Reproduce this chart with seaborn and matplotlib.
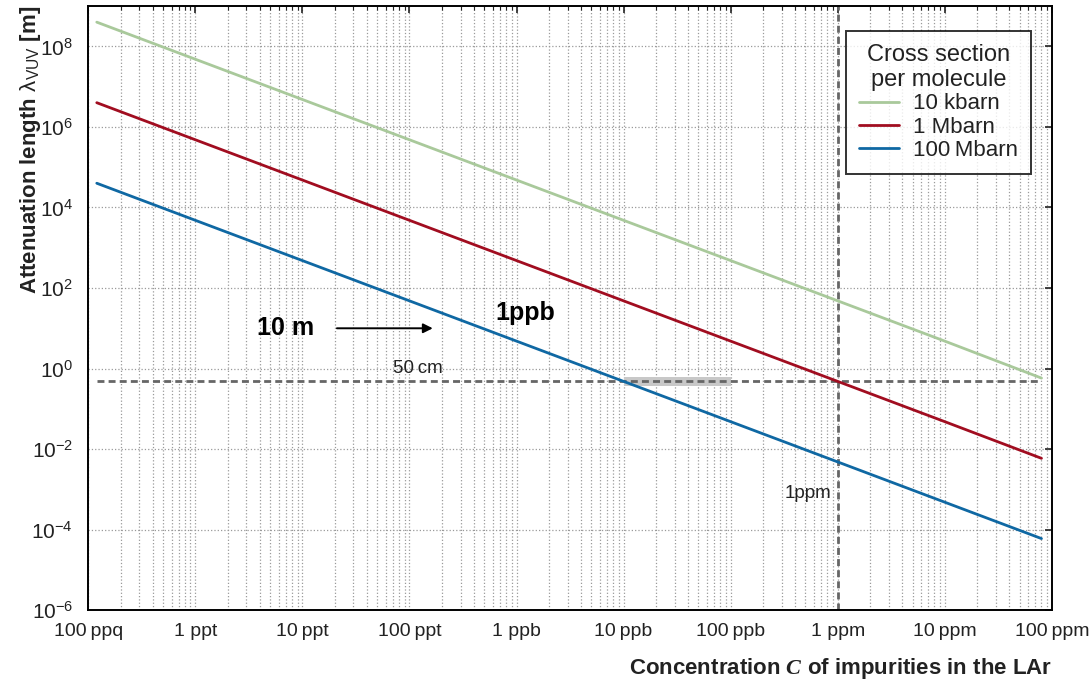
import numpy as np
import pandas as pd
import matplotlib
matplotlib.use("Agg")
import matplotlib.pyplot as plt
import seaborn as sns
from matplotlib.ticker import LogLocator, FixedLocator, NullFormatter

# concentration points (fraction) and attenuation lengths
conc = [1.2e-13, 1e-12, 1e-11, 1e-10, 1e-9, 1e-8, 1e-7, 1e-6, 1e-5, 8e-5]
lam_10kbarn = [4e8, 4.8e7, 4.8e6, 4.8e5, 4.8e4, 4.8e3, 4.8e2, 48, 4.8, 0.58]
lam_1Mbarn = [4e6, 4.8e5, 4.8e4, 4.8e3, 4.8e2, 48, 4.8, 0.48, 0.048, 0.0059]
lam_100Mbarn = [4e4, 4.8e3, 4.8e2, 48, 4.8, 0.48, 0.048, 0.0048, 0.00048, 0.00006]

series_names = ['10 kbarn', '1 Mbarn', '100\u2009Mbarn']
colours = ['#a9c99b', '#a10d20', '#0f68a3']

x_ticks = [1e-13, 1e-12, 1e-11, 1e-10, 1e-9, 1e-8, 1e-7, 1e-6, 1e-5, 1e-4]
x_tick_labels = ['100\u2009ppq', '1 ppt', '10\u2009ppt', '100\u2009ppt', '1 ppb', '10\u2009ppb',
                 '100\u2009ppb', '1 ppm', '10\u2009ppm', '100\u2009ppm']
y_ticks = [1e-6, 1e-4, 1e-2, 1e0, 1e2, 1e4, 1e6, 1e8]
y_tick_labels = ['10$^{-6}$', '10$^{-4}$', '10$^{-2}$', '10$^{0}$', '10$^{2}$',
                 '10$^{4}$', '10$^{6}$', '10$^{8}$']

limit_length = 0.5          # 50 cm
limit_conc = 1e-6           # 1 ppm
band_conc = [1e-8, 1e-7]    # 10 ppb .. 100 ppb
band_len = [0.36, 0.6]


def build_frame():
    rows = []
    for name, vals in zip(series_names, [lam_10kbarn, lam_1Mbarn, lam_100Mbarn]):
        for c, v in zip(conc, vals):
            rows.append({'C': c, 'lambda': v, 'Cross section': name})
    return pd.DataFrame(rows)


def plot_attenuation(df):
    sns.set_style('white')
    plt.rcParams['font.family'] = ['Liberation Sans', 'DejaVu Sans']
    plt.rcParams['mathtext.fontset'] = 'custom'
    plt.rcParams['mathtext.rm'] = 'Liberation Sans'
    plt.rcParams['mathtext.it'] = 'Liberation Serif:italic:bold'
    plt.rcParams['mathtext.default'] = 'rm'

    fig, ax = plt.subplots(figsize=(10.9, 6.81), dpi=100)
    fig.subplots_adjust(left=0.081, right=0.965, top=0.991, bottom=0.104)

    ax.fill_between(band_conc, band_len[0], band_len[1], color='#c8c8c8', lw=0, zorder=1)
    ax.plot([conc[0], conc[-1]], [limit_length, limit_length], ls='--', color='#666666',
            lw=2, dashes=(2.5, 1.5), zorder=2)
    ax.axvline(limit_conc, ls='--', color='#666666', lw=2, dashes=(2.5, 1.5), zorder=2)

    sns.lineplot(data=df, x='C', y='lambda', hue='Cross section', palette=colours,
                 hue_order=series_names, lw=2, ax=ax, zorder=3)

    ax.set_xscale('log')
    ax.set_yscale('log')
    ax.set_xlim(1e-13, 1e-4)
    ax.set_ylim(1e-6, 1e9)

    ax.xaxis.set_major_locator(FixedLocator(x_ticks))
    ax.set_xticklabels(x_tick_labels)
    ax.xaxis.set_minor_locator(LogLocator(base=10, subs=np.arange(2, 10), numticks=20))
    ax.xaxis.set_minor_formatter(NullFormatter())
    ax.yaxis.set_major_locator(FixedLocator(y_ticks))
    ax.set_yticklabels(y_tick_labels)
    ax.yaxis.set_minor_locator(FixedLocator([]))

    ax.grid(which='major', ls=':', color='#9a9a9a', lw=0.9)
    ax.grid(which='minor', axis='x', ls=':', color='#9a9a9a', lw=0.9)
    ax.tick_params(which='both', direction='in', top=True, right=True, labelsize=14,
                   colors='#222222', pad=9)
    ax.tick_params(axis='y', labelsize=15, pad=11)
    ax.tick_params(which='major', length=5, width=1.2)
    ax.tick_params(which='minor', length=3, width=0.8)
    for s in ax.spines.values():
        s.set_color('black')
        s.set_linewidth(1.4)

    ax.set_ylabel(r'Attenuation length $\lambda_{\rm VUV}$ [m]', fontsize=16,
                  fontweight='bold', loc='top', color='#222222', va='center')
    ax.yaxis.set_label_coords(-0.060, 1.0)
    ax.set_xlabel(r'Concentration $\mathit{C}$ of impurities in the LAr', fontsize=16,
                  fontweight='bold', loc='right', labelpad=12, color='#222222')

    ax.annotate('', xy=(1.65e-10, 10), xytext=(2.1e-11, 10),
                arrowprops=dict(arrowstyle='-|>', color='black', lw=1.4,
                                mutation_scale=14, shrinkA=0, shrinkB=0))
    ax.text(6.9e-12, 10, '10 m', fontsize=18, fontweight='bold', ha='center', va='center',
            color='black')
    ax.text(6.3e-10, 24, '1ppb', fontsize=18, fontweight='bold', ha='left', va='center',
            color='black')
    ax.text(1.2e-10, 0.6, '50\u2009cm', fontsize=13.5, ha='center', va='bottom', color='#222222')
    ax.text(0.88e-6, 8e-4, '1ppm', fontsize=13.5, ha='right', va='center', color='#222222')

    leg = ax.legend(title='Cross section\nper molecule', loc='upper right',
                    bbox_to_anchor=(0.99, 0.978), fontsize=16, title_fontsize=17,
                    frameon=True, fancybox=False, handlelength=1.8, handletextpad=0.6,
                    borderpad=0.6, labelspacing=0.1)
    leg.get_frame().set_edgecolor('black')
    leg.get_frame().set_linewidth(1.4)
    leg.get_title().set_color('#222222')
    leg.get_title().set_multialignment('center')
    for t in leg.get_texts():
        t.set_color('#222222')
    return fig, ax


if __name__ == "__main__":
    df = build_frame()
    fig, ax = plot_attenuation(df)
    fig.savefig('out.png', dpi=100)
